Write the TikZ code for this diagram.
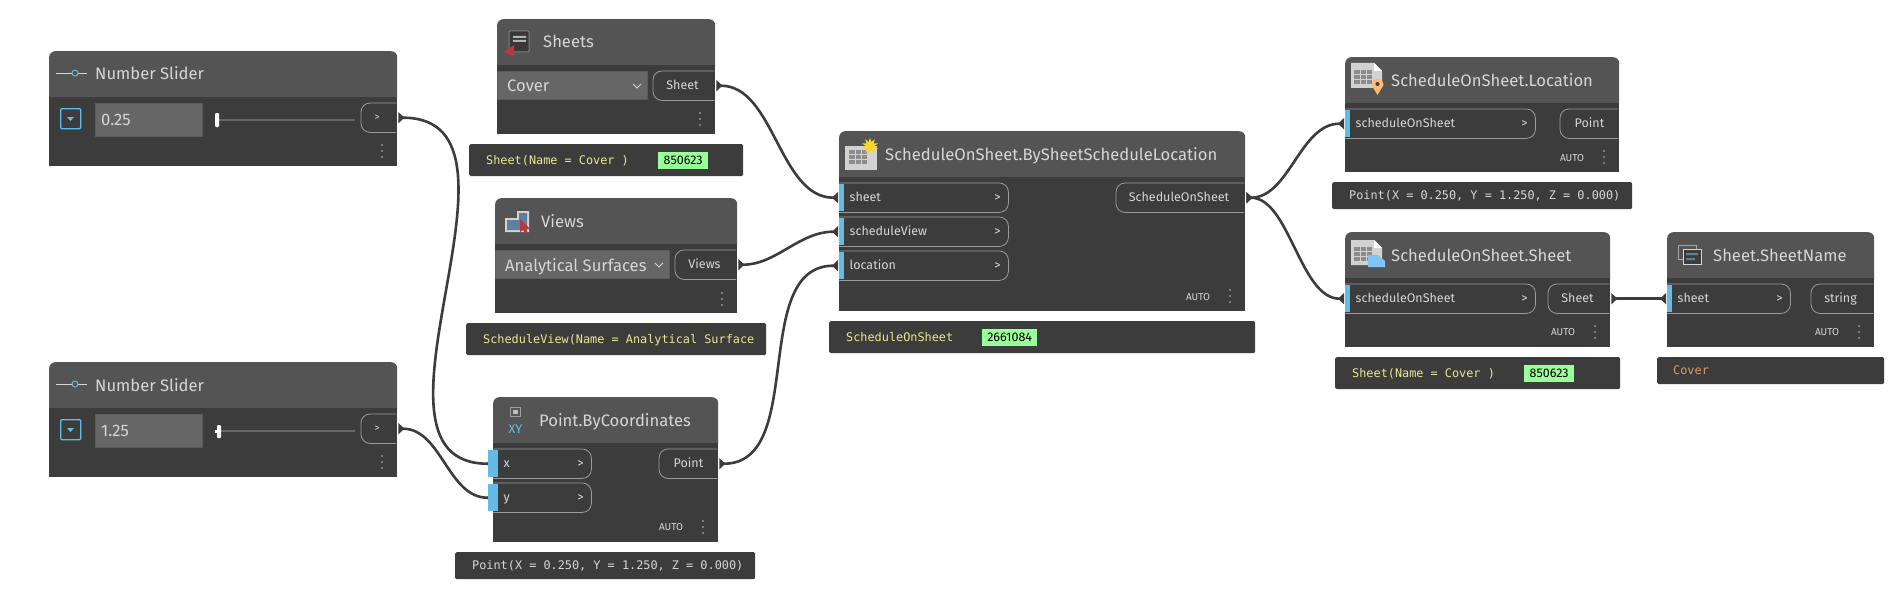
\documentclass[tikz,border=0pt]{standalone}
\usepackage{fontspec}
\setmainfont{Fira Sans}
\newfontfamily\watchfont{DejaVu Sans Mono}
\usepackage{tikz}
\usetikzlibrary{calc,backgrounds,shapes.geometric}
\usetikzlibrary{arrows.meta}
\definecolor{headgray}{HTML}{545454}
\definecolor{bodygray}{HTML}{3C3C3C}
\definecolor{fieldgray}{HTML}{666666}
\definecolor{labelgray}{HTML}{D6D6D6}
\definecolor{outlinegray}{HTML}{9A9A9A}
\definecolor{portblue}{HTML}{64BCE6}
\definecolor{watchyellow}{HTML}{E8E88F}
\definecolor{watchorange}{HTML}{DC9C5C}
\definecolor{idgreen}{HTML}{99FF99}
\definecolor{iconred}{HTML}{B8393F}
\definecolor{iconslate}{HTML}{5F7F9C}
\definecolor{iconpage}{HTML}{D2D2D2}
\definecolor{iconcell}{HTML}{8C8C8C}
\definecolor{iconsheet}{HTML}{80C4F4}
\tikzstyle{cardhead}=[
  anchor=north west,fill=headgray,rounded corners=6pt,minimum height=52pt,inner sep=0pt
]
\tikzstyle{cardbody}=[
  anchor=north west,fill=bodygray,inner sep=0pt
]
\tikzstyle{titletext}=[
  anchor=base west,text=labelgray,inner sep=0pt,font=\fontsize{16.6}{18}\selectfont
]
\tikzstyle{porttext}=[
  text=labelgray,inner sep=0pt,font=\fontsize{12.5}{14}\selectfont
]
\tikzstyle{portnode}=[
  anchor=north west,inner sep=0pt,minimum height=29pt
]
\tikzstyle{portbar}=[
  anchor=north west,fill=portblue,inner sep=0pt,minimum width=5pt,minimum height=27pt
]
\tikzstyle{portline}=[
  draw=outlinegray,line width=0.8pt,rounded corners=9pt
]
\tikzstyle{fieldbox}=[
  anchor=north west,fill=fieldgray,draw=black!12!fieldgray,inner sep=0pt
]
\tikzstyle{fieldtext}=[
  anchor=base west,text=labelgray,inner sep=0pt,font=\fontsize{16.6}{18}\selectfont
]
\tikzstyle{watchbox}=[
  anchor=north west,fill=bodygray,rounded corners=1.5pt,inner sep=0pt
]
\tikzstyle{watchtext}=[
  anchor=base west,inner sep=0pt,font=\watchfont\fontsize{11.85}{14}\selectfont
]
\tikzstyle{idbox}=[
  anchor=north west,fill=idgreen,text=black,inner sep=0pt,minimum height=17pt,font=\fontsize{12.5}{14}\selectfont
]
\tikzstyle{autotext}=[
  text=labelgray,inner sep=0pt,font=\fontsize{10}{11}\selectfont
]
\tikzset{
  wire/.style={{Triangle[reversed,length=6pt,width=11pt]}-{Triangle[reversed,length=6pt,width=11pt]},
    draw=bodygray,line width=2.6pt,shorten <=2pt,shorten >=1pt},
}
\newcommand{\card}[5]{%
  \node (#1head) at (#2,#3) [cardhead,minimum width=(#4-#2)*1pt] {};
  \node (#1) at (#2,#3+46) [cardbody,minimum width=(#4-#2)*1pt,minimum height=(#5-#3-46)*1pt] {};
}
\newcommand{\inport}[5]{%
  \node (#1) at (#2,#3) [portnode,minimum width=(#4-#2)*1pt] {};
  \draw [portline] (#1.north west) -- (#1.north east) -- (#1.south east) -- (#1.south west);
  \node (#1bar) at (#2,#3+1) [portbar] {};
  \node (#1text) at (#2+10.5,#3+18.5) [porttext,anchor=base west] {#5};
  \node (#1arrow) at (#4-10.5,#3+18.5) [porttext,anchor=base] {>};
}
\newcommand{\outport}[5]{%
  \node (#1) at (#2,#3) [portnode,minimum width=(#4-#2)*1pt] {};
  \draw [portline] (#1.north east) -- (#1.north west) -- (#1.south west) -- (#1.south east);
  \node (#1text) at (#2+29.5,#3+18.5) [porttext,anchor=base] {#5};
}
\newcommand{\menudots}[2]{%
  \fill [gray!85] (#1,#2-6) circle (1.2pt) (#1,#2) circle (1.2pt) (#1,#2+6) circle (1.2pt);
}
\newcommand{\autotag}[2]{%
  \node (#1) at (#2) [autotext,anchor=center] {AUTO};
}
\newcommand{\tablecells}[2]{%
  \fill [iconcell] (#1,#2) rectangle ++(18,14);
  \draw [iconpage,line width=0.7pt] (#1,#2+4.7) -- ++(18,0) (#1,#2+9.3) -- ++(18,0)
    (#1+6,#2) -- ++(0,14) (#1+12,#2) -- ++(0,14);
}
\newcommand{\tablepage}[2]{%
  \fill [iconpage] (#1,#2) -- ++(23,0) -- ++(8,8) -- ++(0,17) -- ++(-31,0) -- cycle;
  \fill [white] (#1+23,#2) -- ++(8,8) -- ++(-8,0) -- cycle;
  \tablecells{#1+3}{#2+7}
}

\begin{document}
\begin{tikzpicture}[x=1pt,y=-1pt]
  \useasboundingbox (0,0) rectangle (1896,610);

  % first slider
  \card{slidera}{49}{51}{397}{166}
  \node (sliderat) at (95,80) [titletext] {Number Slider};
  \draw [labelgray,line width=0.8pt] (56,73) -- (72,73) (78,73) -- (87,73);
  \draw [portblue,line width=0.9pt] (75,73) circle (3pt);
  \node (sliderabtn) at (60,108) [anchor=north west,draw=portblue,line width=1.4pt,rounded corners=1pt,minimum size=20pt,inner sep=0pt] {};
  \fill [portblue] (67,117) -- (74,117) -- (70.5,121) -- cycle;
  \node (slideraval) at (95,103) [fieldbox,minimum width=107pt,minimum height=33pt] {};
  \node (slideravalt) at (101,125) [fieldtext] {0.25};
  \draw [fieldgray,line width=1.5pt] (219,120) -- (355,120);
  \fill [white,rounded corners=1pt] (215,113) rectangle (219,127);
  \outport{sliderao}{361}{103}{396}{}
  \node (slideraar) at (377,120) [porttext,anchor=base,font=\fontsize{10}{12}\selectfont] {>};
  \menudots{382}{151}

  % second slider
  \card{sliderb}{49}{362}{397}{477}
  \node (sliderbt) at (95,391) [titletext] {Number Slider};
  \draw [labelgray,line width=0.8pt] (56,384) -- (72,384) (78,384) -- (87,384);
  \draw [portblue,line width=0.9pt] (75,384) circle (3pt);
  \node (sliderbbtn) at (60,419) [anchor=north west,draw=portblue,line width=1.4pt,rounded corners=1pt,minimum size=20pt,inner sep=0pt] {};
  \fill [portblue] (67,428) -- (74,428) -- (70.5,432) -- cycle;
  \node (sliderbval) at (95,414) [fieldbox,minimum width=107pt,minimum height=33pt] {};
  \node (sliderbvalt) at (101,436) [fieldtext] {1.25};
  \draw [fieldgray,line width=1.5pt] (221,431) -- (355,431);
  \fill [white,rounded corners=1pt] (217,425) rectangle (221,438);
  \fill [white] (215,430) rectangle (218,433);
  \outport{sliderbo}{361}{414}{396}{}
  \node (sliderbar) at (377,431) [porttext,anchor=base,font=\fontsize{10}{12}\selectfont] {>};
  \menudots{382}{462}

  % sheets
  \card{sheets}{497}{19}{715}{134}
  \node (sheetst) at (543,48) [titletext] {Sheets};
  \fill [black!78,draw=gray,line width=1pt,rounded corners=1pt] (509,31) rectangle (529,52);
  \fill [gray!60] (513,36) rectangle (526,38) (513,40) rectangle (526,42);
  \fill [iconred] (514,45) -- (504,52) -- (514,57) -- cycle;
  \node (sheetsbox) at (497,71) [fieldbox,minimum width=150pt,minimum height=28pt] {};
  \node (sheetsboxt) at (507,92) [fieldtext] {Cover};
  \draw [labelgray,line width=1pt] (633,84) -- (637,88) -- (641,84);
  \outport{sheetso}{653}{71}{714}{Sheet}
  \menudots{700}{119}
  \node (sheetsw) at (469,144) [watchbox,minimum width=274pt,minimum height=32pt] {};
  \node (sheetswt) at (486,164) [watchtext,text=watchyellow] {Sheet(Name = Cover )};
  \node (sheetsid) at (658,152) [idbox,minimum width=50pt] {850623};

  % views
  \card{views}{495}{198}{737}{313}
  \node (viewst) at (541,227) [titletext] {Views};
  \fill [gray!35] (505,218) -- (517,218) -- (517,211) -- (529,211) -- (529,232) -- (505,232) -- cycle;
  \fill [iconslate] (507,220) -- (519,220) -- (519,213) -- (527,213) -- (527,230) -- (507,230) -- cycle;
  \fill [iconred] (520,219) -- (530,229) -- (526,229) -- (528,233) -- (525,233) -- (523,230) -- (520,232) -- cycle;
  \node (viewsbox) at (495,250) [fieldbox,minimum width=174pt,minimum height=28pt] {};
  \node (viewsboxt) at (505,271) [fieldtext] {Analytical Surfaces};
  \draw [labelgray,line width=1pt] (655,263) -- (659,267) -- (663,263);
  \outport{viewso}{675}{250}{736}{Views}
  \menudots{722}{299}
  \node (viewsw) at (466,323) [watchbox,minimum width=300pt,minimum height=32pt] {};
  \begin{scope}
    \clip (466,323) rectangle (753,355);
    \node (viewswt) at (483,343) [watchtext,text=watchyellow] {ScheduleView(Name = Analytical Surface};
  \end{scope}

  % point
  \card{point}{493}{397}{718}{542}
  \node (pointt) at (539,426) [titletext] {Point.ByCoordinates};
  \draw [gray!75,line width=1pt] (510.5,407.5) rectangle (520.5,416.5);
  \fill [gray!50] (513,410) rectangle (518,414);
  \node (pointxy) at (515.5,433) [anchor=base,inner sep=0pt,text=portblue,font=\fontsize{12.5}{14}\selectfont] {XY};
  \inport{pointx}{493}{449}{591}{x}
  \inport{pointy}{493}{483}{591}{y}
  \node (pointxb) at (488,450) [portbar] {};
  \node (pointyb) at (488,484) [portbar] {};
  \outport{pointo}{659}{449}{717}{Point}
  \autotag{pointa}{671,527}
  \menudots{703}{527}
  \node (pointw) at (455,552) [watchbox,minimum width=300pt,minimum height=27pt] {};
  \node (pointwt) at (472,569.5) [watchtext,text=labelgray] {Point(X = 0.250, Y = 1.250, Z = 0.000)};

  % schedule on sheet
  \card{main}{839}{131}{1245}{311}
  \node (maint) at (885,160) [titletext] {ScheduleOnSheet.BySheetScheduleLocation};
  \fill [iconpage] (845,146) rectangle (877,170);
  \tablecells{849}{150}
  \node (mainstar) at (870,146) [star,star points=10,star point ratio=2,fill=orange!40!yellow!85,inner sep=0pt,minimum size=17pt] {};
  \inport{msheet}{839}{183}{1008}{sheet}
  \inport{mview}{839}{217}{1008}{scheduleView}
  \inport{mloc}{839}{251}{1008}{location}
  \outport{mout}{1116}{183}{1244}{}
  \node (mouttext) at (1179,201.5) [porttext,anchor=base] {ScheduleOnSheet};
  \autotag{maina}{1198,297}
  \menudots{1230}{296}
  \node (mainw) at (829,321) [watchbox,minimum width=426pt,minimum height=32pt] {};
  \node (mainwt) at (846,341) [watchtext,text=watchyellow] {ScheduleOnSheet};
  \node (mainid) at (982,329) [idbox,minimum width=55pt] {2661084};

  % location
  \card{loc}{1345}{57}{1619}{172}
  \node (loct) at (1391,86) [titletext] {ScheduleOnSheet.Location};
  \tablepage{1351}{63}
  \fill [orange!55!white] (1377.5,95) -- (1371.5,85) arc (180:0:6pt) -- cycle;
  \fill [bodygray] (1377.5,84) circle (2pt);
  \inport{locin}{1345}{109}{1535}{scheduleOnSheet}
  \outport{locout}{1560}{109}{1618}{Point}
  \autotag{loca}{1572,158}
  \menudots{1604}{157}
  \node (locw) at (1332,182) [watchbox,minimum width=300pt,minimum height=27pt] {};
  \node (locwt) at (1349,199.5) [watchtext,text=labelgray] {Point(X = 0.250, Y = 1.250, Z = 0.000)};

  % sheet
  \card{sheet}{1345}{232}{1610}{347}
  \node (sheett) at (1391,261) [titletext] {ScheduleOnSheet.Sheet};
  \tablepage{1351}{240}
  \fill [iconsheet] (1368,255) -- (1378,255) -- (1385,261) -- (1385,267) -- (1368,267) -- cycle;
  \inport{sheetin}{1345}{284}{1535}{scheduleOnSheet}
  \outport{sheetout}{1548}{284}{1609}{Sheet}
  \autotag{sheeta}{1563,332}
  \menudots{1595}{332}
  \node (sheetw) at (1335,357) [watchbox,minimum width=285pt,minimum height=32pt] {};
  \node (sheetwt) at (1352,377) [watchtext,text=watchyellow] {Sheet(Name = Cover )};
  \node (sheetid) at (1524,365) [idbox,minimum width=50pt] {850623};

  % sheet name
  \card{name}{1667}{232}{1874}{347}
  \node (namet) at (1713,261) [titletext] {Sheet.SheetName};
  \draw [gray!70,line width=0.8pt] (1678,245) rectangle (1696,259);
  \fill [bodygray,draw=labelgray,line width=0.9pt] (1683,249) rectangle (1701,264);
  \fill [iconslate] (1686,253) rectangle (1698,255) (1686,258) rectangle (1695,260);
  \inport{namein}{1667}{284}{1790}{sheet}
  \outport{nameout}{1811}{284}{1873}{string}
  \autotag{namea}{1827,332}
  \menudots{1859}{332}
  \node (namew) at (1657,357) [watchbox,minimum width=227pt,minimum height=27pt] {};
  \node (namewt) at (1673,374.5) [watchtext,text=watchorange] {Cover};

  \begin{scope}[on background layer]
    \draw [wire] (sliderao.east) .. controls +(153,0) and +(-150,0) .. (pointx.west);
    \draw [wire] (sliderbo.east) .. controls +(45,0) and +(-45,0) .. (pointy.west);
    \draw [wire] (sheetso.east) .. controls +(60,0) and +(-60,0) .. (msheet.west);
    \draw [wire] (viewso.east) .. controls +(40,0) and +(-40,0) .. (mview.west);
    \draw [wire] (pointo.east) .. controls +(90,0) and +(-90,0) .. (mloc.west);
    \draw [wire] (mout.east) .. controls +(45,0) and +(-45,0) .. (locin.west);
    \draw [wire] (mout.east) .. controls +(45,0) and +(-45,0) .. (sheetin.west);
    \draw [wire] (sheetout.east) -- (namein.west);
  \end{scope}
\end{tikzpicture}
\end{document}
